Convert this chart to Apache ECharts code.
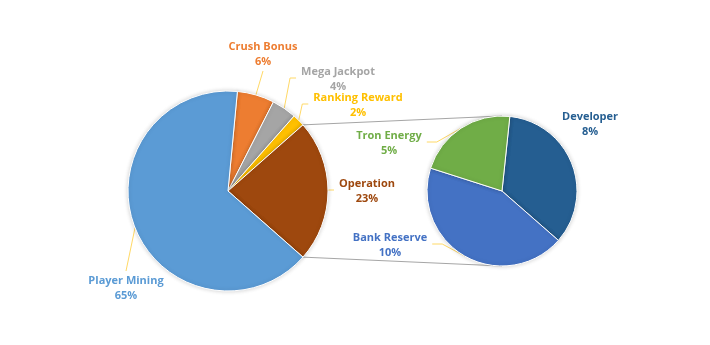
<!DOCTYPE html>
<html>
<head>
<meta charset="utf-8">
<script src="https://cdn.jsdelivr.net/npm/echarts@6/dist/echarts.min.js"></script>
<style>
  html, body { margin: 0; padding: 0; background: #fff; }
  #chart { width: 710px; height: 345px; }
</style>
</head>
<body>
<div id="chart"></div>
<script>
// main pie, listed clockwise as drawn
const mainNames = ['Crush Bonus', 'Mega Jackpot', 'Ranking Reward', 'Operation', 'Player Mining']
const mainValues = [6, 4, 2, 23, 65]
// breakdown of "Operation"
const subNames = ['Developer', 'Bank Reserve', 'Tron Energy']
const subValues = [8, 10, 5]

const mainColors = ['#ED7D31', '#A5A5A5', '#FFC000', '#9E480E', '#5B9BD5']
const subColors = ['#255E91', '#4472C4', '#70AD47']

const leftCenter = [228, 191]
const leftR = 100
const rightCenter = [502, 191]
const rightR = 75

// label spots and how the leader runs to them
const labelSpots = {
  'Crush Bonus': [263, 54, 'top'],
  'Mega Jackpot': [338, 79, 'right'],
  'Ranking Reward': [358, 105, 'right'],
  'Operation': [367, 191, 'right'],
  'Player Mining': [126, 288, 'bottom'],
  'Developer': [590, 124, 'none'],
  'Tron Energy': [389, 143, 'left'],
  'Bank Reserve': [390, 245, 'left']
}

const chart = echarts.init(document.getElementById('chart'))

// rotate main pie so that "Operation" is centred on the right
const total = mainValues.reduce((a, b) => a + b, 0)
const opIdx = mainNames.indexOf('Operation')
const before = mainValues.slice(0, opIdx).reduce((a, b) => a + b, 0)
const mainStart = 360 * (before + mainValues[opIdx] / 2) / total
const opHalf = Math.PI * mainValues[opIdx] / total

function makeLayout(names) {
  return function (params) {
    const name = names[params.dataIndex]
    const spot = labelSpots[name]
    const w = params.labelRect.width
    const h = params.labelRect.height
    const x = spot[0], y = spot[1]
    const edge = params.labelLinePoints ? params.labelLinePoints[0] : [x, y]
    let pts
    if (spot[2] === 'top') {
      const e = [x, y + h / 2 + 2]
      pts = [edge, e, e]
    } else if (spot[2] === 'bottom') {
      const e = [x, y - h / 2 - 2]
      pts = [edge, e, e]
    } else if (spot[2] === 'right') {
      pts = [edge, [x - w / 2 - 11, y - 1], [x - w / 2 - 5, y - 1]]
    } else if (spot[2] === 'left') {
      pts = [edge, [x + w / 2 + 15, y - 1], [x + w / 2 + 5, y - 1]]
    } else {
      pts = [edge, edge, edge]
    }
    return { x: x, y: y, align: 'center', verticalAlign: 'middle', labelLinePoints: pts }
  }
}

function makeData(names, values, colors) {
  return names.map((n, i) => ({
    name: n,
    value: values[i],
    itemStyle: { color: colors[i] },
    label: { color: colors[i] },
    labelLine: { show: labelSpots[n][2] !== 'none' }
  }))
}

const labelStyle = {
  show: true,
  formatter: '{b}\n{c}%',
  fontFamily: '"Open Sans", sans-serif',
  fontWeight: 'bold',
  fontSize: 11,
  lineHeight: 15
}
const itemBase = {
  borderColor: '#fff',
  borderWidth: 1,
  shadowBlur: 4,
  shadowColor: 'rgba(0,0,0,0.18)'
}

// connector lines from the edges of "Operation" to top/bottom of the second pie
const ux = leftCenter[0] + leftR * Math.cos(opHalf)
const uy = leftCenter[1] - leftR * Math.sin(opHalf)
const ly = leftCenter[1] + leftR * Math.sin(opHalf)

const option = {
  backgroundColor: '#fff',
  animation: false,
  graphic: [
    {
      type: 'line', z: 0,
      shape: { x1: ux, y1: uy, x2: rightCenter[0], y2: rightCenter[1] - rightR },
      style: { stroke: '#A6A6A6', lineWidth: 1 }
    },
    {
      type: 'line', z: 0,
      shape: { x1: ux, y1: ly, x2: rightCenter[0], y2: rightCenter[1] + rightR },
      style: { stroke: '#A6A6A6', lineWidth: 1 }
    }
  ],
  series: [
    {
      type: 'pie',
      center: leftCenter,
      radius: leftR,
      startAngle: mainStart,
      clockwise: true,
      avoidLabelOverlap: false,
      label: labelStyle,
      labelLine: { show: true, lineStyle: { color: '#FFD966', width: 1 } },
      labelLayout: makeLayout(mainNames),
      itemStyle: itemBase,
      emphasis: { disabled: true },
      data: makeData(mainNames, mainValues, mainColors)
    },
    {
      type: 'pie',
      center: rightCenter,
      radius: rightR,
      startAngle: 84,
      clockwise: true,
      avoidLabelOverlap: false,
      label: labelStyle,
      labelLine: { show: true, lineStyle: { color: '#FFD966', width: 1 } },
      labelLayout: makeLayout(subNames),
      itemStyle: itemBase,
      emphasis: { disabled: true },
      data: makeData(subNames, subValues, subColors)
    }
  ]
}

chart.setOption(option)
</script>
</body>
</html>
